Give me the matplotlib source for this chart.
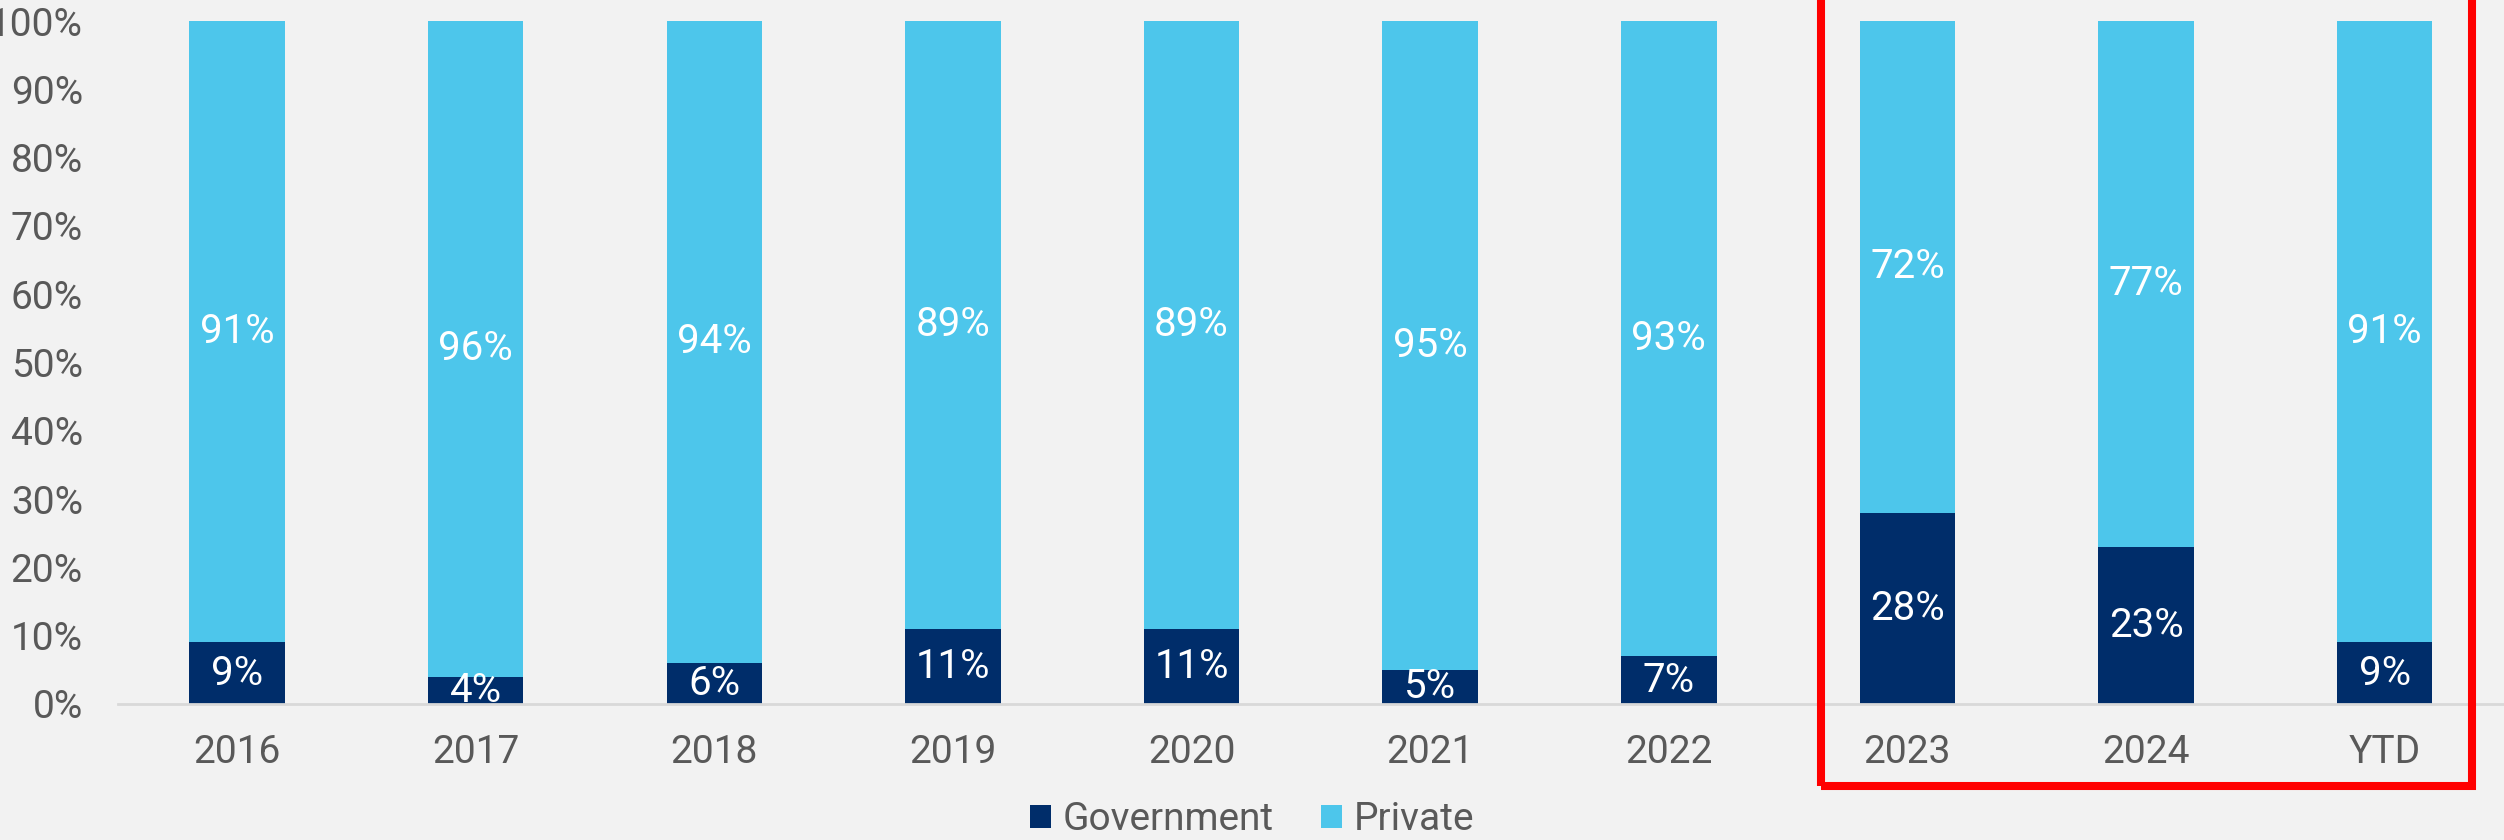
import matplotlib.pyplot as plt
import matplotlib.patches as patches
import numpy as np

# share of deals by buyer type, in percent
years = ["2016", "2017", "2018", "2019", "2020", "2021", "2022", "2023", "2024", "YTD"]
government = [9, 4, 6, 11, 11, 5, 7, 28, 23, 9]
private = [91, 96, 94, 89, 89, 95, 93, 72, 77, 91]

gov_color = "#002D6A"
priv_color = "#4DC6EB"
bg_color = "#F2F2F2"
text_color = "#595959"

plt.rcParams['font.family'] = ['Roboto', 'DejaVu Sans']

fig = plt.figure(figsize=(25.04, 8.4), dpi=100, facecolor=bg_color)
ax = fig.add_axes([0.047, 0.162, 0.953, 0.813])
ax.set_facecolor(bg_color)

x = np.arange(len(years))
gov = np.array(government) / 100
priv = np.array(private) / 100

b1 = ax.bar(x, gov, width=0.4, color=gov_color, label="Government")
b2 = ax.bar(x, priv, width=0.4, bottom=gov, color=priv_color, label="Private")

# value labels centred inside each segment
for i in range(len(years)):
    ax.text(x[i], gov[i] / 2, f"{government[i]}%", ha="center", va="center",
            color="white", fontsize=29)
    ax.text(x[i], gov[i] + priv[i] / 2, f"{private[i]}%", ha="center", va="center",
            color="white", fontsize=29)

ax.set_xlim(-0.5, len(years) - 0.5)
ax.set_ylim(0, 1)
ax.set_yticks(np.arange(0, 1.01, 0.1))
ax.set_yticklabels([f"{int(round(v * 100))}%" for v in np.arange(0, 1.01, 0.1)])
ax.set_xticks(x)
ax.set_xticklabels(years)
ax.tick_params(axis="both", length=0, labelsize=28, colors=text_color)
ax.tick_params(axis="y", pad=25)
ax.tick_params(axis="x", pad=22)

for side in ["top", "right", "left"]:
    ax.spines[side].set_visible(False)
ax.spines["bottom"].set_color("#D9D9D9")
ax.spines["bottom"].set_linewidth(2)

leg = fig.legend(handles=[b1, b2], loc="center", bbox_to_anchor=(0.5, 0.024), ncol=2,
                 frameon=False, fontsize=28, handlelength=0.55, handleheight=0.55,
                 handletextpad=0.3, columnspacing=1.2)
for t in leg.get_texts():
    t.set_color(text_color)

# highlight box around the latest periods
box = patches.Rectangle((0.7272, 0.0643), 0.26, 1.0, transform=fig.transFigure,
                        fill=False, edgecolor="#FF0000", linewidth=5.8, clip_on=False)
fig.patches.append(box)

fig.savefig("out.png", dpi=100, facecolor=bg_color)
